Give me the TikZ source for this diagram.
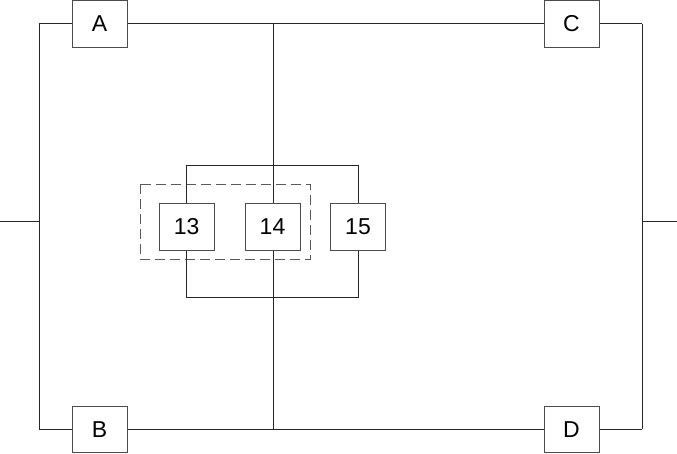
\documentclass[tikz,border=0pt]{standalone}
\usepackage{fontspec}
\setmainfont{Liberation Sans}
\begin{document}
\begin{tikzpicture}[x=1pt,y=-1pt,
  wire/.style={draw=black!85,line width=1pt},
  blk/.style={draw=black!70,line width=1pt,fill=white,minimum width=55pt,minimum height=46.5pt,inner sep=0pt,font=\fontsize{23}{27}\selectfont},
  grp/.style={draw=black!65,line width=1pt,dash pattern=on 10pt off 5pt}]
\useasboundingbox (0,0) rectangle (677,454);
% junctions
\coordinate (tl) at (39,24);
\coordinate (bl) at (39,429);
\coordinate (tr) at (642,24);
\coordinate (br) at (642,429);
\coordinate (tm) at (273,24);
\coordinate (bm) at (273,429);
\coordinate (ml) at (39,222);
\coordinate (mr) at (642,222);
\coordinate (el) at (0,222);
\coordinate (er) at (677,222);
\coordinate (ut) at (186.7,165.3);
\coordinate (uu) at (358.5,165.3);
\coordinate (lt) at (186.7,297);
\coordinate (lu) at (358.5,297);
% outer wires
\draw[wire] (el) -- (ml);
\draw[wire] (mr) -- (er);
\draw[wire] (tl) -- (bl);
\draw[wire] (tr) -- (br);
\draw[wire] (tl) -- (tr);
\draw[wire] (bl) -- (br);
\draw[wire] (tm) -- (bm);
% dashed group
\draw[grp] (140.7,184.3) rectangle (310.3,259.7);
% blocks
\node[blk] (A) at (99.5,24) {A};
\node[blk] (B) at (99.5,429.5) {B};
\node[blk] (C) at (571.5,24) {C};
\node[blk] (D) at (571.5,429.5) {D};
\node[blk] (n13) at (186.7,227) {13};
\node[blk] (n14) at (272.5,227) {14};
\node[blk] (n15) at (358,227) {15};
% bracket wires
\draw[wire] (n13.north -| ut) -- (ut) -- (uu) -- (n15.north -| uu);
\draw[wire] (n13.south -| lt) -- (lt) -- (lu) -- (n15.south -| lu);
\end{tikzpicture}
\end{document}
